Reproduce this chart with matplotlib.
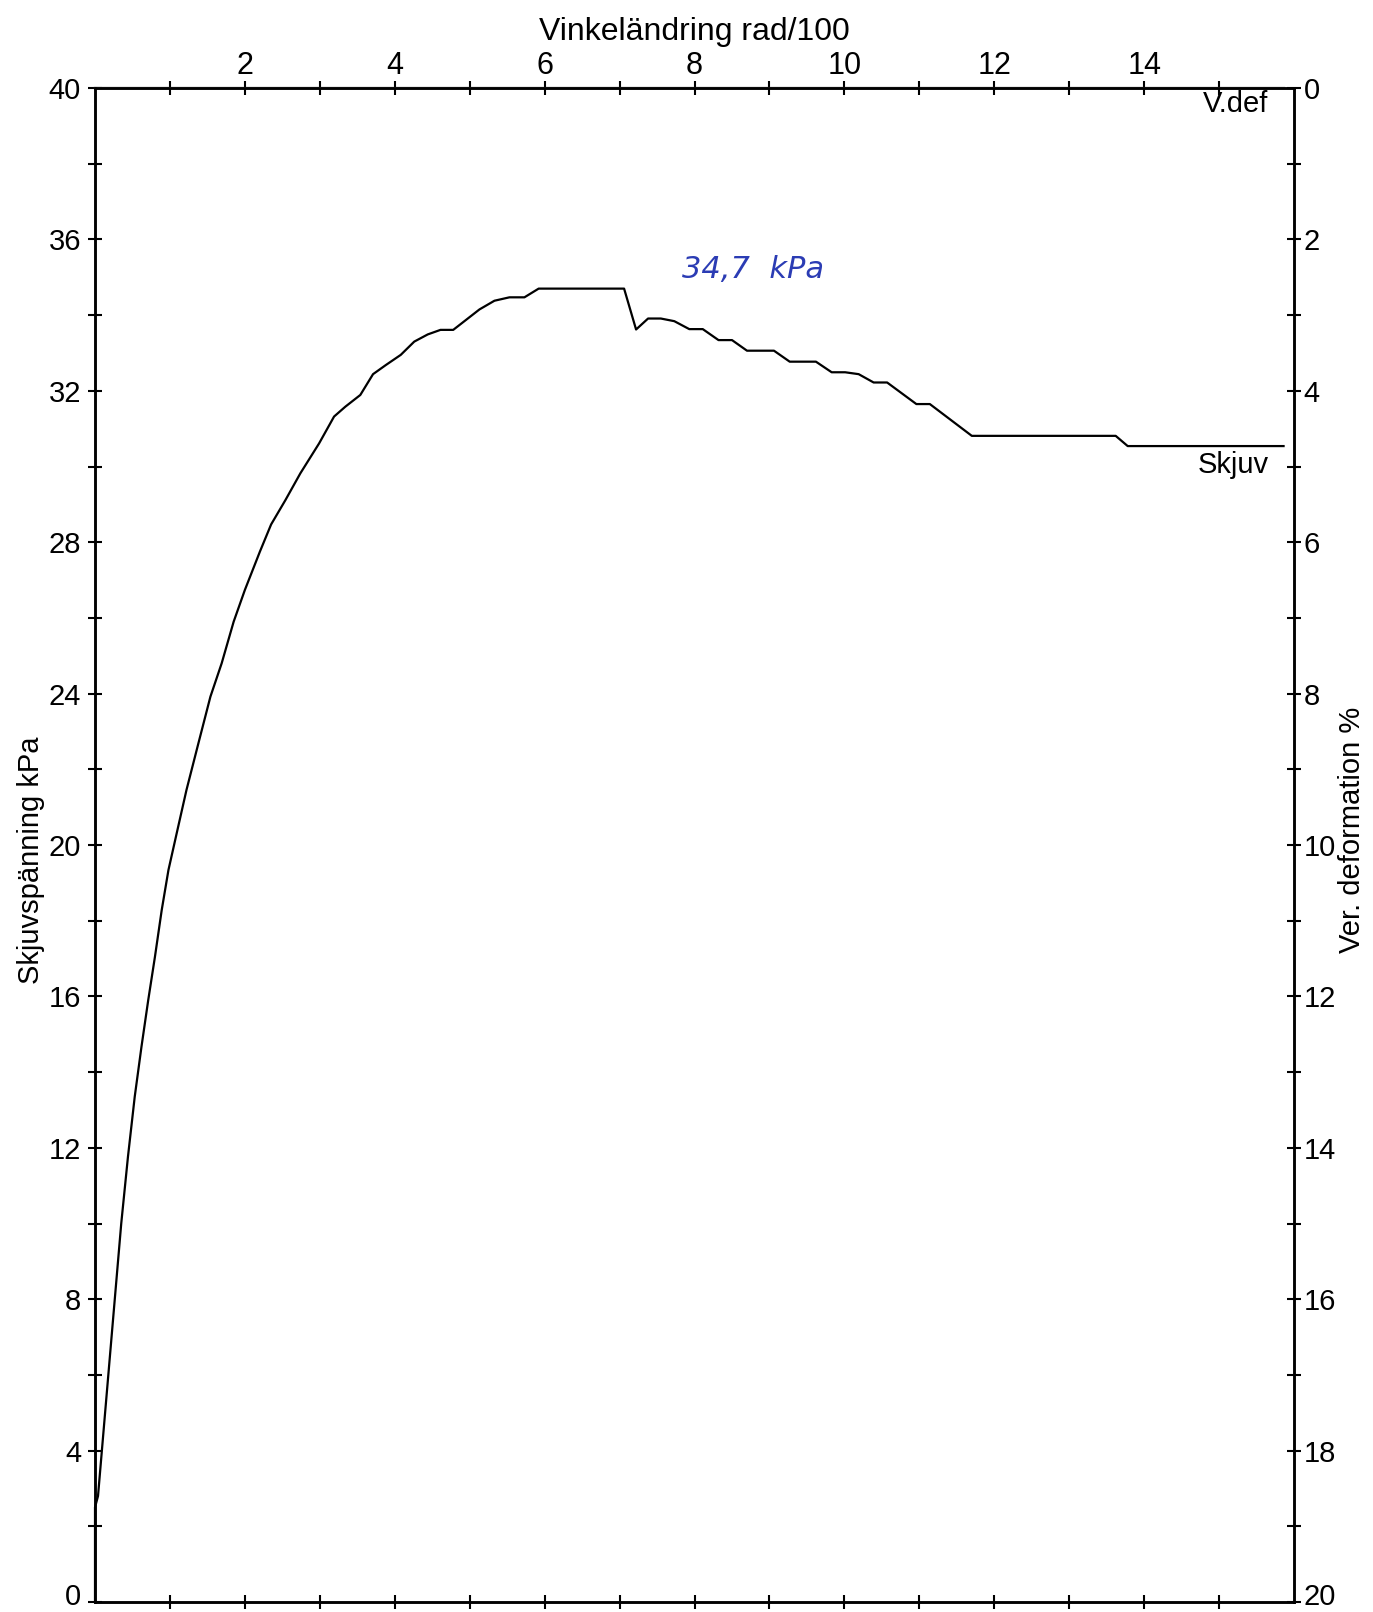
import matplotlib
matplotlib.use('Agg')
import matplotlib.pyplot as plt
from matplotlib.transforms import ScaledTranslation

plt.rcParams['font.family'] = ['Liberation Sans Narrow', 'Liberation Sans', 'DejaVu Sans']

# Skjuvspänning (kPa) mot vinkeländring (rad/100)
vinkel = [0.0, 0.0, 0.04, 0.24, 0.35, 0.44, 0.53, 0.62, 0.71, 0.80, 0.89, 0.98,
          1.09, 1.22, 1.38, 1.54, 1.69, 1.85, 2.00, 2.20, 2.35, 2.54, 2.74, 2.99,
          3.19, 3.34, 3.54, 3.71, 3.88, 4.08, 4.26, 4.44, 4.61, 4.78, 5.13, 5.33,
          5.53, 5.73, 5.92, 7.06, 7.22, 7.38, 7.55, 7.73, 7.93, 8.11, 8.32, 8.50,
          8.70, 9.06, 9.27, 9.62, 9.83, 10.01, 10.19, 10.39, 10.57, 10.96, 11.14,
          11.70, 13.62, 13.78, 15.86]
skjuv = [0.0, 2.5, 2.8, 7.45, 10.0, 11.77, 13.35, 14.67, 15.9, 17.05, 18.28, 19.34,
         20.31, 21.45, 22.69, 23.92, 24.8, 25.9, 26.74, 27.75, 28.47, 29.11, 29.82, 30.61,
         31.32, 31.58, 31.89, 32.44, 32.68, 32.95, 33.3, 33.49, 33.61, 33.61, 34.15, 34.38,
         34.47, 34.47, 34.7, 34.7, 33.62, 33.91, 33.91, 33.84, 33.63, 33.63, 33.34, 33.34,
         33.06, 33.06, 32.77, 32.77, 32.49, 32.49, 32.44, 32.22, 32.22, 31.65, 31.65,
         30.81, 30.81, 30.54, 30.54]

# vertikal deformation (%) - ligger på noll hela försöket
vdef_x = [0.0, 15.86]
vdef = [0.0, 0.0]

x_ticks = list(range(1, 16))
x_labels = [str(v) if v % 2 == 0 else '' for v in x_ticks]
y_ticks = list(range(0, 41, 2))
y_labels = [str(v) if v % 4 == 0 else '' for v in y_ticks]
r_ticks = list(range(0, 21))
r_labels = [str(v) if v % 2 == 0 else '' for v in r_ticks]

fig = plt.figure(figsize=(13.73, 16.12), dpi=100)
ax = fig.add_axes([0.0692, 0.0062, 0.8733, 0.9392])
ax2 = ax.twinx()

ax.plot(vinkel, skjuv, color='black', lw=1.6, clip_on=False, zorder=3)
ax2.plot(vdef_x, vdef, color='#333333', lw=1.6, clip_on=False)

ax.set_xlim(0, 16)
ax.set_ylim(0, 40)
ax2.set_ylim(20, 0)

fs = 21
ax.set_xticks(x_ticks)
ax.set_xticklabels(x_labels)
ax.set_yticks(y_ticks)
ax.set_yticklabels(y_labels)
ax2.set_yticks(r_ticks)
ax2.set_yticklabels(r_labels)

ax.tick_params(axis='x', top=True, bottom=True, labeltop=True, labelbottom=False,
               direction='inout', length=10, width=1.5, labelsize=fs + 1, pad=0)
ax.tick_params(axis='y', direction='inout', length=10, width=1.5, labelsize=fs, pad=5)
ax2.tick_params(axis='y', direction='inout', length=10, width=1.5, labelsize=fs, pad=2)

# nollan nederst sitter lite högre så den inte klipps
up = ScaledTranslation(0, 6 / 72, fig.dpi_scale_trans)
for lab in (ax.get_yticklabels()[0], ax2.get_yticklabels()[-1]):
    lab.set_transform(lab.get_transform() + up)

for a in (ax, ax2):
    for s in a.spines.values():
        s.set_linewidth(1.8)

ax.xaxis.set_label_position('top')
ax.set_xlabel('Vinkeländring rad/100', fontsize=fs + 2, labelpad=8)
ax.set_ylabel('Skjuvspänning kPa', fontsize=fs)
ax.yaxis.set_label_coords(-0.0417, 0.49)
ax2.set_ylabel('Ver. deformation %', fontsize=fs)
ax2.yaxis.set_label_coords(1.037, 0.51)

ax.text(15.66, 39.95, 'V.def', ha='right', va='top', fontsize=fs)
ax.text(15.66, 30.42, 'Skjuv', ha='right', va='top', fontsize=fs)
ax.text(7.83, 35.2, '34,7  kPa', ha='left', va='center', fontsize=fs + 1,
        color='#2b3cb4', style='italic', family=['DejaVu Sans'])

fig.savefig('out.png', dpi=100, facecolor='white')
